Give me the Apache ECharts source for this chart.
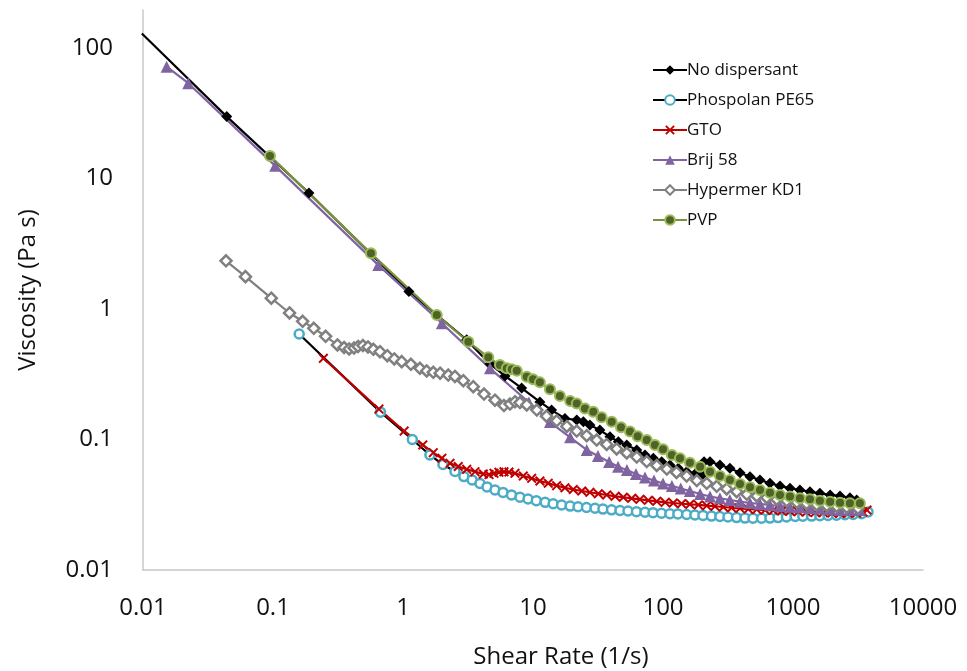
<!DOCTYPE html>
<html>
<head>
<meta charset="utf-8">
<script src="https://cdn.jsdelivr.net/npm/echarts@6/dist/echarts.min.js"></script>
<style>
  html, body { margin: 0; padding: 0; background: #fff; }
  #chart { width: 967px; height: 671px; }
</style>
</head>
<body>
<div id="chart"></div>
<script>
// [shear rate (1/s), viscosity (Pa s)]
const noDispersant = [
  [0.0098, 129], [0.0441, 29.8], [0.189, 7.74], [1.11, 1.36], [3.09, 0.58], [4.67, 0.379],
  [6.09, 0.307], [8.18, 0.248], [11.3, 0.194], [13.9, 0.168], [17.6, 0.145], [21.7, 0.141],
  [24.4, 0.137], [27.4, 0.129], [32.7, 0.118], [39.1, 0.105], [45.3, 0.0962], [52.6, 0.0908],
  [62.8, 0.0831], [72.7, 0.0761], [84.2, 0.0718], [97.7, 0.0676], [113, 0.0638], [131, 0.0602],
  [152, 0.0567], [176, 0.0544], [200, 0.0535], [207, 0.0676], [230, 0.0676], [274, 0.0638],
  [327, 0.0602], [391, 0.0557], [467, 0.0519], [557, 0.049], [665, 0.0462], [794, 0.0441],
  [948, 0.0423], [1130, 0.041], [1350, 0.0398], [1610, 0.0387], [1930, 0.0376], [2300, 0.0369],
  [2740, 0.0358], [3090, 0.0344]
];
const phospolan = [
  [0.159, 0.643], [0.671, 0.162], [1.18, 0.1], [1.61, 0.0761], [2.03, 0.0643], [2.51, 0.0569],
  [2.94, 0.052], [3.4, 0.049], [3.91, 0.046], [4.43, 0.0433], [5.1, 0.041], [5.88, 0.0393],
  [6.83, 0.0376], [7.94, 0.0361], [9.16, 0.035], [10.6, 0.034], [12.4, 0.033], [14.3, 0.0322],
  [16.6, 0.0315], [19.3, 0.0309], [22.2, 0.0305], [25.8, 0.0301], [30, 0.0297], [34.5, 0.0293],
  [40.2, 0.0289], [46.7, 0.0286], [53.8, 0.0283], [62.5, 0.028], [72.7, 0.0277], [83.8, 0.0275],
  [97.3, 0.0272], [113, 0.027], [130, 0.0269], [152, 0.0266], [176, 0.0264], [203, 0.0262],
  [236, 0.0259], [274, 0.0257], [316, 0.0255], [368, 0.0252], [427, 0.025], [492, 0.0249],
  [573, 0.0249], [665, 0.025], [767, 0.0252], [891, 0.0255], [1040, 0.0257], [1190, 0.0258],
  [1390, 0.0259], [1610, 0.0261], [1860, 0.0262], [2160, 0.0263], [2510, 0.0265], [2900, 0.0266],
  [3370, 0.027], [3780, 0.0278]
];
const gto = [
  [0.244, 0.419], [0.653, 0.171], [1.02, 0.116], [1.42, 0.0908], [1.71, 0.0792], [1.99, 0.0718],
  [2.3, 0.0657], [2.66, 0.0621], [3.09, 0.0591], [3.58, 0.0567], [4.15, 0.0544], [4.59, 0.0539],
  [5.01, 0.0551], [5.47, 0.0561], [5.98, 0.0565], [6.53, 0.0563], [7.27, 0.0551], [8.42, 0.0525],
  [9.77, 0.0504], [11.3, 0.0481], [13.1, 0.0462], [15.2, 0.0443], [17.6, 0.0427], [20.4, 0.0414],
  [23.7, 0.0403], [27.4, 0.0394], [31.8, 0.0384], [36.9, 0.0376], [42.8, 0.0367], [49.5, 0.0361],
  [57.4, 0.0354], [66.5, 0.0348], [77.1, 0.0342], [89.5, 0.0336], [104, 0.033], [120, 0.0326],
  [139, 0.0322], [161, 0.0319], [187, 0.0315], [217, 0.0311], [251, 0.0308], [291, 0.0304],
  [337, 0.03], [391, 0.0297], [453, 0.0293], [526, 0.0291], [610, 0.0288], [705, 0.0286],
  [818, 0.0283], [948, 0.0282], [1100, 0.028], [1270, 0.0278], [1480, 0.0276], [1710, 0.0275],
  [1990, 0.0273], [2300, 0.0272], [2660, 0.0272], [3090, 0.0273], [3450, 0.0278], [3710, 0.0288]
];
const brij58 = [
  [0.0152, 71.9], [0.0223, 53.7], [0.104, 12.5], [0.646, 2.17], [1.99, 0.777], [4.67, 0.351],
  [9.31, 0.192], [13.5, 0.136], [19.3, 0.104], [25.9, 0.0831], [31.6, 0.0748], [38.5, 0.0673],
  [45.1, 0.0619], [52.8, 0.0584], [61.9, 0.0544], [72.7, 0.0512], [85.3, 0.0485], [100, 0.046],
  [117, 0.0441], [137, 0.0421], [161, 0.0403], [193, 0.0382], [230, 0.0366], [274, 0.0354],
  [327, 0.0344], [391, 0.0334], [467, 0.0326], [557, 0.0321], [665, 0.0315], [794, 0.0309],
  [948, 0.0305], [1130, 0.0302], [1350, 0.0298], [1610, 0.0295], [1930, 0.0292], [2300, 0.0288],
  [2740, 0.0288], [3270, 0.0288]
];
const hypermer = [
  [0.0435, 2.34], [0.0614, 1.77], [0.097, 1.21], [0.134, 0.932], [0.169, 0.805], [0.206, 0.711],
  [0.254, 0.618], [0.313, 0.53], [0.352, 0.507], [0.385, 0.494], [0.42, 0.503], [0.451, 0.516],
  [0.492, 0.525], [0.538, 0.512], [0.592, 0.491], [0.665, 0.471], [0.757, 0.439], [0.857, 0.414],
  [0.977, 0.395], [1.15, 0.377], [1.35, 0.351], [1.52, 0.335], [1.71, 0.327], [1.93, 0.322],
  [2.23, 0.312], [2.51, 0.304], [2.91, 0.282], [3.47, 0.254], [4.2, 0.223], [5.1, 0.2],
  [5.98, 0.182], [6.65, 0.187], [7.27, 0.195], [7.94, 0.192], [8.95, 0.184], [10.7, 0.168],
  [12.7, 0.151], [15.2, 0.139], [18.2, 0.126], [21.7, 0.116], [25.9, 0.107], [30.9, 0.0991],
  [36.9, 0.0916], [44, 0.0846], [52.6, 0.0788], [62.8, 0.0734], [75, 0.0678], [89.5, 0.0632],
  [107, 0.0594], [127, 0.0559], [152, 0.0525], [182, 0.0485], [217, 0.0462], [259, 0.0438],
  [309, 0.0418], [369, 0.0398], [441, 0.038], [526, 0.0369], [628, 0.0358], [750, 0.0347],
  [895, 0.0338], [1070, 0.033], [1270, 0.0323], [1520, 0.0316], [1820, 0.0311], [2170, 0.0307],
  [2590, 0.0302], [3160, 0.0297]
];
const pvp = [
  [0.0948, 14.9], [0.567, 2.67], [1.82, 0.9], [3.18, 0.561], [4.53, 0.427], [5.57, 0.372],
  [6.28, 0.351], [6.86, 0.345], [7.5, 0.337], [8.95, 0.303], [10, 0.289], [11.3, 0.274],
  [13.5, 0.243], [16.1, 0.215], [19.3, 0.197], [21.7, 0.189], [25.1, 0.173], [29.1, 0.163],
  [33.7, 0.148], [40.3, 0.137], [47.5, 0.124], [55.7, 0.115], [63.8, 0.106], [75, 0.0991],
  [86.7, 0.0908], [100, 0.0841], [117, 0.0761], [135, 0.0718], [161, 0.0664], [193, 0.0619],
  [230, 0.0567], [274, 0.0525], [327, 0.049], [391, 0.0456], [467, 0.043], [557, 0.041],
  [665, 0.0391], [794, 0.0376], [948, 0.0365], [1130, 0.0354], [1350, 0.0348], [1610, 0.034],
  [1930, 0.0334], [2300, 0.0328], [2740, 0.0325], [3270, 0.0325]
];

const FONT = 'Open Sans';
const X_PATH = 'path://M0,1.4L1.4,0L5,3.6L8.6,0L10,1.4L6.4,5L10,8.6L8.6,10L5,6.4L1.4,10L0,8.6L3.6,5Z';

// only label the decades
function decadeLabel(v) {
  const p = Math.log10(v);
  const r = Math.round(p);
  if (Math.abs(p - r) > 1e-6) return '';
  return r < 0 ? Math.pow(10, r).toFixed(-r) : String(Math.round(Math.pow(10, r)));
}

function lineSeries(name, data, lineColor, symbol, size, itemStyle) {
  return {
    name: name,
    type: 'line',
    data: data,
    symbol: symbol,
    symbolSize: size,
    showAllSymbol: true,
    clip: true,
    lineStyle: { color: lineColor, width: 2.2 },
    itemStyle: itemStyle,
    emphasis: { disabled: true }
  };
}

const chart = echarts.init(document.getElementById('chart'), null, { renderer: 'canvas' });
chart.setOption({
  animation: false,
  backgroundColor: '#fff',
  textStyle: { fontFamily: FONT },
  grid: { left: 143, right: 44, top: 10, bottom: 101, containLabel: false, outerBoundsMode: 'none' },
  legend: {
    orient: 'vertical',
    left: 647,
    top: 55,
    itemWidth: 34,
    itemHeight: 12,
    itemGap: 10,
    textStyle: { fontFamily: FONT, fontSize: 17, color: '#111', lineHeight: 20, padding: [0, 0, 0, -5] },
    data: ['No dispersant', 'Phospolan PE65', 'GTO', 'Brij 58', 'Hypermer KD1', 'PVP']
  },
  xAxis: {
    type: 'log',
    logBase: 10,
    min: 0.01,
    max: 10000,
    name: 'Shear Rate (1/s)',
    nameLocation: 'middle',
    nameGap: 75,
    nameTextStyle: { fontFamily: FONT, fontSize: 24, color: '#111', padding: [0, 0, 0, 56] },
    axisLine: { show: true, lineStyle: { color: '#c8c8c8', width: 1.5 } },
    axisTick: { show: false },
    splitLine: { show: false },
    minorTick: { show: false },
    axisLabel: { fontFamily: FONT, fontSize: 24, color: '#111', margin: 26, formatter: decadeLabel }
  },
  yAxis: {
    type: 'log',
    logBase: 10,
    min: 0.01,
    max: 195.5,
    name: 'Viscosity (Pa s)',
    nameLocation: 'middle',
    nameGap: 103,
    nameRotate: 90,
    nameTextStyle: { fontFamily: FONT, fontSize: 24, color: '#111' },
    axisLine: { show: true, lineStyle: { color: '#c8c8c8', width: 1.5 } },
    axisTick: { show: false },
    splitLine: { show: false },
    minorTick: { show: false },
    axisLabel: { fontFamily: FONT, fontSize: 24, color: '#111', margin: 30, showMaxLabel: false, formatter: decadeLabel }
  },
  series: [
    lineSeries('No dispersant', noDispersant, '#000000', 'diamond', 11, { color: '#000000' }),
    lineSeries('Phospolan PE65', phospolan, '#000000', 'circle', 9,
      { color: '#ffffff', borderColor: '#4bacc6', borderWidth: 2.5 }),
    lineSeries('GTO', gto, '#c00000', X_PATH, 10, { color: '#c00000' }),
    lineSeries('Brij 58', brij58, '#8064a2', 'triangle', 12, { color: '#8064a2' }),
    lineSeries('Hypermer KD1', hypermer, '#808080', 'diamond', 11,
      { color: '#ffffff', borderColor: '#808080', borderWidth: 2.5 }),
    lineSeries('PVP', pvp, '#77933c', 'circle', 10,
      { color: '#4f6228', borderColor: '#9bbb59', borderWidth: 2 })
  ]
});
</script>
</body>
</html>
